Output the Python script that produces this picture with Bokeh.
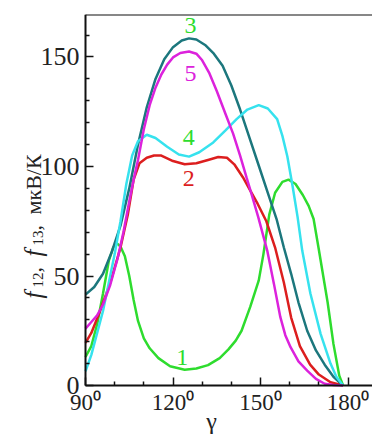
import numpy as np
from bokeh.plotting import figure
from bokeh.models import FixedTicker, Range1d, LinearAxis, ColumnDataSource
from bokeh.core.properties import value
from bokeh.embed import file_html
from bokeh.resources import INLINE

# ---- data ----
x1 = [90, 92, 94, 96, 98, 99.5, 100.7, 102, 103.5, 105, 106.5, 108, 110, 112, 115, 119, 124, 128, 132, 136, 139,
      141.5, 143.5, 146.5, 149.4, 151, 153, 155, 157.5, 159.6, 162, 164.5, 166.5, 168.2, 170, 172, 173, 175, 177, 178.3]
y1 = [13, 18, 28, 42, 57, 63, 65, 63.5, 59, 50, 39, 29.5, 21.5, 17, 12.5, 8.8, 7.2, 7.8, 9.3, 12.5, 16.5,
      20.5, 25, 36, 48, 60, 78, 88, 93, 94, 92, 87, 82, 76, 62, 46, 38, 19, 4.5, 0]

x2 = [90, 92, 95, 98.5, 102, 104.5, 106.5, 108.5, 111, 113.5, 116, 120, 124, 128, 132, 135.5, 138.5, 141, 144,
      146.5, 149, 152, 155, 158, 160.5, 163.5, 167, 170, 174, 178.3]
y2 = [19.5, 24, 34, 47, 63, 78, 94, 101.5, 104, 105, 105, 102.5, 101, 101.5, 103, 104.3, 104, 101, 95,
      89, 83, 75, 63, 47, 31, 18, 9.5, 5, 1.5, 0]

x3 = [90, 93, 96, 99, 102, 105, 108, 111, 114, 117, 120, 123, 125.5, 128, 131, 134, 137, 140, 143, 146, 149.5,
      152.5, 155.5, 158, 160.5, 163, 166, 169, 172, 175, 178.3]
y3 = [41.5, 45, 51, 61, 73, 90, 110, 127, 140, 149, 154.5, 157.5, 158.5, 158, 155.5, 151.5, 146, 137, 126, 114, 100,
      88, 76, 63, 51, 38, 25, 16, 9.5, 4, 0]

x4 = [90, 92, 94, 96, 98, 100, 102, 104, 106, 108, 111, 114, 118, 122, 125.5, 129, 133.8, 138, 141.8, 145.5,
      149.4, 152.5, 155.7, 157.5, 159.2, 161, 162.7, 164.3, 167.1, 170.6, 174, 176, 178.3]
y4 = [6.5, 14, 24, 34, 47, 60, 75, 92, 105, 111.5, 114.5, 113, 109, 105.5, 104.5, 106.5, 111, 116.5, 121.6, 126,
      128, 126.5, 121.6, 114, 104.6, 91, 77, 61.6, 42, 23.6, 10, 4, 0]

x5 = [90, 92, 94, 96, 98.5, 101, 103, 105, 106.5, 108, 110, 112, 114, 116, 118, 120, 122.5, 125.5, 128, 130,
      132.5, 135, 138, 140.6, 143, 145.2, 147, 149.2, 152.3, 154.6, 156.8, 158.5, 160.3, 163, 166, 169, 172, 175, 178.3]
y5 = [26, 29, 32, 37, 46, 58, 70, 84, 94, 103, 117, 128, 136, 142, 146.5, 149.8, 151.8, 152.5, 151.5, 148.5,
      142.5, 134.5, 124, 115, 105, 95, 87, 77, 61.6, 46.4, 31.2, 23, 17.5, 11, 6.8, 3, 0.8, 0.2, 0]

curve_x = [x1, x2, x3, x4, x5]
curve_y = [y1, y2, y3, y4, y5]
curve_colors = ["#2edc2e", "#dc1e1e", "#1c777d", "#36e2ee", "#dc22dc"]

label_text = ["1", "2", "3", "4", "5"]
label_x = [123.2, 125.4, 126.0, 125.4, 126.0]
label_y = [13.0, 94.4, 164.4, 113.4, 142.3]
label_colors = ["#2edc2e", "#dc1e1e", "#2edc2e", "#2edc2e", "#dc22dc"]

x_major = [90, 120, 150, 180]
x_minor = [100, 110, 130, 140, 160, 170]
x_tick_labels = {90: "90\u2070", 120: "120\u2070", 150: "150\u2070", 180: "180\u2070"}
y_major = [0, 50, 100, 150]
y_minor = [10, 20, 30, 40, 60, 70, 80, 90, 110, 120, 130, 140, 160]

x_title = "\u03b3"
y_title_parts = ["f", "12", ",", "f", "13", ",", "\u043c\u043a\u0412/\u041a"]

SERIF = "Liberation Serif"

X0, X1 = 90, 188.39
Y0, Y1 = 0, 169.4

p = figure(width=372, height=434, output_backend="svg", toolbar_location=None,
           x_range=Range1d(60.86, X1), y_range=Range1d(-22.37, Y1),
           min_border_left=0, min_border_right=0, min_border_top=14, min_border_bottom=0)
p.grid.visible = False
p.outline_line_color = None
p.background_fill_color = "white"
p.border_fill_color = "white"

def style_axis(ax, size):
    ax.axis_line_width = 2
    ax.axis_line_color = "#111111"
    ax.major_tick_in = 8
    ax.major_tick_out = 0
    ax.minor_tick_in = 4
    ax.minor_tick_out = 0
    ax.major_tick_line_width = 1.5
    ax.minor_tick_line_width = 1.5
    ax.major_tick_line_color = "#111111"
    ax.minor_tick_line_color = "#111111"
    ax.major_label_text_font = SERIF
    ax.major_label_text_font_size = size
    ax.major_label_text_color = "#222222"

style_axis(p.xaxis[0], "23px")
style_axis(p.yaxis[0], "26px")

p.xaxis.ticker = FixedTicker(ticks=x_major, minor_ticks=x_minor)
p.xaxis.major_label_overrides = x_tick_labels
p.xaxis.major_label_standoff = 4
p.xaxis.fixed_location = Y0
p.xaxis.bounds = (X0, X1)

p.yaxis.ticker = FixedTicker(ticks=y_major, minor_ticks=y_minor)
p.yaxis.major_label_standoff = 6
p.yaxis.fixed_location = X0
p.yaxis.bounds = (Y0, Y1)

# top border of the frame
top = LinearAxis(ticker=FixedTicker(ticks=[]), fixed_location=Y1, bounds=(X0, X1),
                 major_label_text_font_size="0px", major_tick_out=0, minor_tick_out=0,
                 axis_line_width=2, axis_line_color="#111111")
p.add_layout(top, "above")

for xs, ys, c in zip(curve_x, curve_y, curve_colors):
    p.line(xs, ys, line_color=c, line_width=2.5)

src = ColumnDataSource(dict(x=label_x, y=label_y, t=label_text, c=label_colors))
p.text(x="x", y="y", text="t", text_color="c", source=src, text_font=value(SERIF),
       text_font_size="24px", text_align="center", text_baseline="middle")

# x axis title
p.text(x=[133.2], y=[-16.4], text=[x_title], text_font=value(SERIF), text_font_size="24px",
       text_align="center", text_baseline="alphabetic", text_color="#222222")

# y axis title (rotated pieces)
ang = np.pi / 2
yt_x = [72.2, 73.6, 72.2, 72.2, 73.6, 72.2, 72.2]
yt_y = [39.7, 44.7, 51.6, 58.9, 63.9, 70.8, 78.1]
yt_style = ["italic", "normal", "normal", "italic", "normal", "normal", "normal"]
yt_size = ["25px", "15px", "22px", "25px", "15px", "22px", "22px"]
for t, lx, ly, st, fs in zip(y_title_parts, yt_x, yt_y, yt_style, yt_size):
    p.text(x=[lx], y=[ly], text=[t], angle=ang, text_font=value(SERIF), text_font_style=st,
           text_font_size=fs, text_align="left", text_baseline="alphabetic", text_color="#222222")

open("out.html", "w").write(file_html(p, INLINE))
